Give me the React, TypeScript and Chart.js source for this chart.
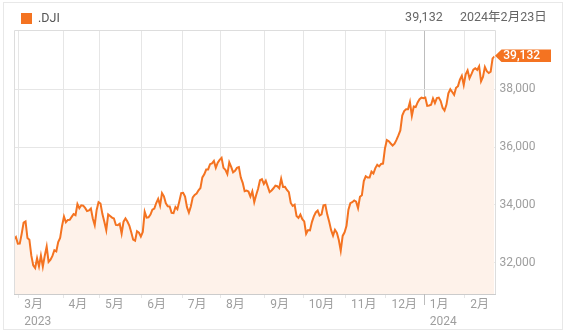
import React, { useEffect, useRef } from "react";
import { Chart, registerables } from "chart.js";

Chart.register(...registerables);

// ---- data -------------------------------------------------------------
const symbol = ".DJI";
const lastDateLabel = "2024年2月23日";

const monthLabels = ["3月", "4月", "5月", "6月", "7月", "8月", "9月", "10月", "11月", "12月", "1月", "2月"];
const yearLabels: Record<number, string> = { 0: "2023", 10: "2024" };

// closes before the first month tick (late Feb 2023)
const leadIn = [32817, 32889, 32657];
const mar2023 = [32661, 33004, 33391, 33431, 32856, 32798, 32254, 31910, 31820, 32155, 31875, 32247, 31862, 32245, 32561, 32031, 32106, 32238, 32433, 32395, 32718, 32860, 33274];
const apr2023 = [33601, 33403, 33483, 33486, 33587, 33685, 33647, 34030, 33887, 33988, 33977, 33897, 33787, 33809, 33876, 33531, 33302, 33826, 34098];
const may2023 = [34051, 33684, 33415, 33128, 33675, 33619, 33562, 33531, 33309, 33301, 33349, 33012, 33421, 33536, 33427, 33286, 33056, 32800, 32765, 33093, 33043, 32908];
const jun2023 = [33061, 33763, 33563, 33573, 33665, 33834, 33877, 34067, 34212, 33979, 34408, 34299, 34054, 33952, 33947, 33727, 33714, 33927, 33853, 34122, 34408];
const jul2023 = [34418, 34288, 33922, 33735, 33945, 34262, 34347, 34395, 34509, 34586, 34952, 35061, 35225, 35228, 35411, 35438, 35520, 35282, 35459, 35560];
const aug2023 = [35630, 35283, 35216, 35066, 35474, 35315, 35124, 35177, 35281, 35308, 34946, 34766, 34475, 34500, 34464, 34289, 34473, 34100, 34347, 34560, 34853, 34891, 34722];
const sep2023 = [34838, 34642, 34443, 34501, 34577, 34664, 34646, 34576, 34908, 34619, 34625, 34518, 34441, 34070, 33964, 34007, 33619, 33551, 33667, 33508];
const oct2023 = [33433, 33003, 33130, 33120, 33408, 33605, 33740, 33805, 33632, 33671, 33985, 33998, 33666, 33415, 33127, 32937, 33141, 33036, 32785, 32418, 32929, 33053];
const nov2023 = [33275, 33839, 34061, 34096, 34153, 34112, 33892, 34283, 34338, 34828, 34991, 34945, 34947, 35151, 35088, 35273, 35390, 35333, 35417, 35430, 35951];
const dec2023 = [36245, 36204, 36125, 36055, 36117, 36248, 36405, 36578, 37090, 37248, 37306, 37306, 37558, 37083, 37405, 37386, 37545, 37657, 37710, 37690];
const jan2024 = [37715, 37430, 37440, 37466, 37683, 37525, 37696, 37711, 37593, 37361, 37267, 37469, 37864, 38002, 37906, 37807, 38050, 38109, 38333, 38467, 38150];
const feb2024 = [38520, 38654, 38380, 38521, 38677, 38727, 38672, 38797, 38273, 38424, 38773, 38628, 38564, 38612, 39069, 39132];

const months = [mar2023, apr2023, may2023, jun2023, jul2023, aug2023, sep2023, oct2023, nov2023, dec2023, jan2024, feb2024];

const yTicks = [32000, 34000, 36000, 38000];
const yMin = 30920;
const yMax = 40050;

// ---- derived -----------------------------------------------------------
const series: number[] = [...leadIn, ...months.flat()];
const boundaries: number[] = [];
{
  let idx = leadIn.length;
  months.forEach((m) => {
    boundaries.push(idx - 0.5);
    idx += m.length;
  });
}
const yearBoundaryIdx = 10;
const lastValue = series[series.length - 1];
const fmt = (v: number) => Math.round(v).toLocaleString("en-US");

// ---- styles ------------------------------------------------------------
const ORANGE = "#f47321";
const FILL = "#fef2ea";
const GRID = "#e6e6e6";
const YEAR_GRID = "#bdbdbd";
const FRAME = "#dddddd";
const AXIS = "#cccccc";
const TICK_TEXT = "#9e9e9e";
const FONT = "Roboto, 'Noto Sans CJK JP', sans-serif";

const W = 567;
const H = 332;

const framePlugin = {
  id: "frame",
  afterDraw(chart: any) {
    const { ctx, chartArea } = chart;
    const { left, top, right, bottom } = chartArea;
    ctx.save();
    // frame
    ctx.strokeStyle = FRAME;
    ctx.lineWidth = 1;
    ctx.beginPath();
    ctx.moveTo(Math.round(left) + 0.5, Math.round(bottom));
    ctx.lineTo(Math.round(left) + 0.5, Math.round(top) + 0.5);
    ctx.lineTo(Math.round(right) + 0.5, Math.round(top) + 0.5);
    ctx.lineTo(Math.round(right) + 0.5, Math.round(bottom));
    ctx.stroke();
    ctx.strokeStyle = AXIS;
    ctx.beginPath();
    ctx.moveTo(Math.round(left), Math.round(bottom) + 0.5);
    ctx.lineTo(Math.round(right) + 1, Math.round(bottom) + 0.5);
    ctx.stroke();
    // longer tick at the year boundary
    const xs = chart.scales.x;
    const xb = Math.round(xs.getPixelForValue(boundaries[yearBoundaryIdx])) + 0.5;
    ctx.strokeStyle = YEAR_GRID;
    ctx.beginPath();
    ctx.moveTo(xb, bottom);
    ctx.lineTo(xb, bottom + 11);
    ctx.stroke();
    // last value tag
    const ys = chart.scales.y;
    const y = ys.getPixelForValue(lastValue) - 0.8;
    const tip = right + 0.5;
    const bx = tip + 6.5;
    const ex = 551;
    const hh = 6.3;
    ctx.fillStyle = ORANGE;
    ctx.beginPath();
    ctx.moveTo(tip, y);
    ctx.lineTo(bx, y - hh);
    ctx.lineTo(ex, y - hh);
    ctx.lineTo(ex, y + hh);
    ctx.lineTo(bx, y + hh);
    ctx.closePath();
    ctx.fill();
    ctx.fillStyle = "#ffffff";
    ctx.font = `500 12px ${FONT}`;
    ctx.textAlign = "left";
    ctx.textBaseline = "middle";
    ctx.fillText(fmt(lastValue), bx + 1.8, y + 0.5);
    ctx.restore();
  },
};

function DjiChart() {
  const ref = useRef<HTMLCanvasElement | null>(null);
  useEffect(() => {
    if (!ref.current) return;
    const chart = new Chart(ref.current, {
      type: "line",
      data: {
        datasets: [
          {
            data: series.map((v, i) => ({ x: i, y: v })),
            borderColor: ORANGE,
            borderWidth: 2,
            backgroundColor: FILL,
            fill: "start",
            pointRadius: 0,
            tension: 0,
          },
        ],
      },
      options: {
        responsive: false,
        animation: false,
        events: [],
        layout: { padding: { left: 14, top: 30, right: 0, bottom: 0 } },
        plugins: { legend: { display: false }, tooltip: { enabled: false } },
        scales: {
          x: {
            type: "linear",
            min: 0,
            max: series.length - 1,
            afterBuildTicks: (s: any) => {
              s.ticks = boundaries.map((v) => ({ value: v }));
            },
            afterFit: (s: any) => {
              s.height = H - 294;
            },
            border: { display: false },
            grid: {
              color: (c: any) => (c.index === yearBoundaryIdx ? YEAR_GRID : GRID),
              tickColor: (c: any) => (c.index === yearBoundaryIdx ? YEAR_GRID : GRID),
              tickLength: 4,
              drawTicks: true,
            },
            ticks: {
              autoSkip: false,
              maxRotation: 0,
              minRotation: 0,
              align: "start",
              labelOffset: 5.5,
              padding: -1,
              color: TICK_TEXT,
              font: { family: FONT, size: 12, lineHeight: 1.4 },
              callback: (_v: any, i: number) =>
                yearLabels[i] ? [monthLabels[i], yearLabels[i]] : monthLabels[i],
            },
          },
          y: {
            position: "right",
            min: yMin,
            max: yMax,
            afterBuildTicks: (s: any) => {
              s.ticks = yTicks.map((v) => ({ value: v }));
            },
            afterFit: (s: any) => {
              s.width = W - 494.5;
            },
            border: { display: false },
            grid: { color: GRID, drawTicks: false },
            ticks: {
              padding: 5,
              color: TICK_TEXT,
              font: { family: FONT, size: 12 },
              callback: (v: any) => fmt(Number(v)),
            },
          },
        },
      } as any,
      plugins: [framePlugin],
    });
    return () => chart.destroy();
  }, []);
  return <canvas ref={ref} width={W} height={H} style={{ position: "absolute", left: 0, top: 0, width: W, height: H }} />;
}

export default function App() {
  const text: React.CSSProperties = {
    position: "absolute",
    fontFamily: FONT,
    fontSize: 12.5,
    lineHeight: "18px",
    whiteSpace: "nowrap",
  };
  return (
    <div style={{ position: "absolute", left: 0, top: 0, width: W, height: H, background: "#fff" }}>
      <div
        style={{
          position: "absolute",
          left: 3,
          top: 2,
          width: 560,
          height: 328,
          boxSizing: "border-box",
          border: "1px solid #e8e8e8",
        }}
      />
      <DjiChart />
      <div style={{ position: "absolute", left: 21, top: 13, width: 11, height: 11, background: ORANGE }} />
      <span style={{ ...text, left: 38, top: 8.5, color: "#555" }}>{symbol}</span>
      <span style={{ ...text, right: W - 442.7, top: 8.3, color: "#666" }}>{fmt(lastValue)}</span>
      <span style={{ ...text, right: W - 546.7, top: 8.3, color: "#666" }}>{lastDateLabel}</span>
    </div>
  );
}
